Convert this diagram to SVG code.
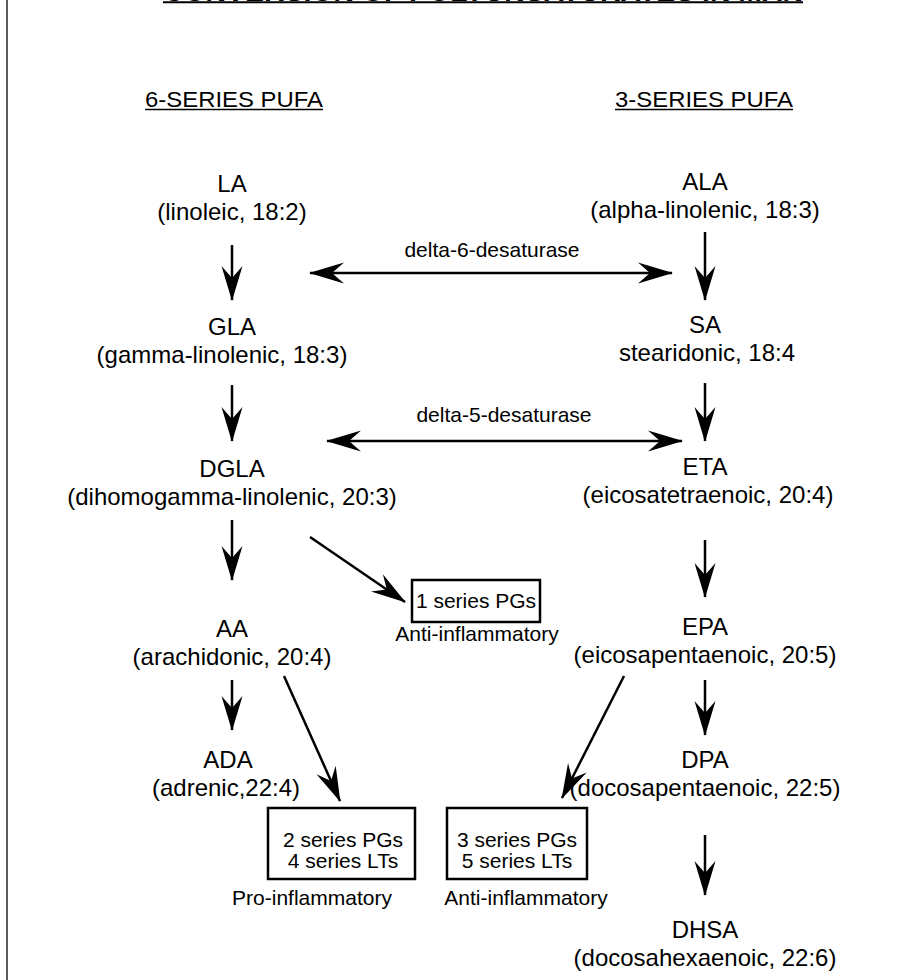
<svg xmlns="http://www.w3.org/2000/svg" width="902" height="980" viewBox="0 0 902 980">
<defs>
<style>
text{font-family:"Liberation Sans",Arial,sans-serif;fill:#000}
.n{font-size:24px;text-anchor:middle}
.s{font-size:21px;text-anchor:middle}
.h{font-size:22px}
.ln{stroke:#000;stroke-width:2.5;fill:none}
.bx{fill:#fff;stroke:#000;stroke-width:2.5}
</style>
<marker id="ah" markerUnits="userSpaceOnUse" markerWidth="42" markerHeight="26" viewBox="-37 -13 42 26" refX="0" refY="0" orient="auto-start-reverse">
<path d="M1,0 L-34,-10.5 L-22,0 L-34,10.5 Z" fill="#000"/>
</marker>
</defs>
<rect width="902" height="980" fill="#fff"/>
<line x1="7" y1="0" x2="7" y2="980" stroke="#333" stroke-width="1.6"/>
<g id="title">
<text x="163" y="0.8" font-size="26" font-weight="bold" textLength="640" lengthAdjust="spacingAndGlyphs">CONVERSION OF POLYUNSATURATES IN MAN</text>
<line x1="163" y1="2.2" x2="803" y2="2.2" stroke="#000" stroke-width="2"/>
</g>
<g id="hdr6">
<text class="h" x="145" y="107" textLength="178" lengthAdjust="spacingAndGlyphs">6-SERIES PUFA</text>
<line x1="145" y1="109.5" x2="323" y2="109.5" stroke="#000" stroke-width="1.5"/>
</g>
<g id="hdr3">
<text class="h" x="615" y="107" textLength="178" lengthAdjust="spacingAndGlyphs">3-SERIES PUFA</text>
<line x1="615" y1="109.5" x2="793" y2="109.5" stroke="#000" stroke-width="1.5"/>
</g>
<g id="LA"><text class="n" x="232" y="192">LA</text><text class="n" x="232" y="220">(linoleic, 18:2)</text></g>
<g id="ALA"><text class="n" x="705" y="190">ALA</text><text class="n" x="705" y="218">(alpha-linolenic, 18:3)</text></g>
<g id="GLA"><text class="n" x="232" y="335">GLA</text><text class="n" x="222" y="363">(gamma-linolenic, 18:3)</text></g>
<g id="SA"><text class="n" x="705" y="333">SA</text><text class="n" x="707" y="361">stearidonic, 18:4</text></g>
<g id="DGLA"><text class="n" x="232" y="477">DGLA</text><text class="n" x="232" y="505">(dihomogamma-linolenic, 20:3)</text></g>
<g id="ETA"><text class="n" x="705" y="475">ETA</text><text class="n" x="708" y="503">(eicosatetraenoic, 20:4)</text></g>
<g id="AA"><text class="n" x="232" y="637">AA</text><text class="n" x="232" y="665">(arachidonic, 20:4)</text></g>
<g id="EPA"><text class="n" x="705" y="635">EPA</text><text class="n" x="705" y="663">(eicosapentaenoic, 20:5)</text></g>
<g id="ADA"><text class="n" x="228" y="768">ADA</text><text class="n" x="226" y="796">(adrenic,22:4)</text></g>
<g id="DPA"><text class="n" x="705" y="768">DPA</text><text class="n" x="705" y="796">(docosapentaenoic, 22:5)</text></g>
<g id="DHSA"><text class="n" x="705" y="938">DHSA</text><text class="n" x="705" y="966">(docosahexaenoic, 22:6)</text></g>
<g id="PG1">
<rect class="bx" x="412" y="580" width="128" height="42"/>
<text class="s" x="476" y="608">1 series PGs</text>
<text class="s" x="477" y="641">Anti-inflammatory</text>
</g>
<g id="PG2">
<rect class="bx" x="268" y="808" width="147" height="71"/>
<text class="s" x="343" y="847">2 series PGs</text>
<text class="s" x="343" y="868">4 series LTs</text>
<text class="s" x="312" y="905">Pro-inflammatory</text>
</g>
<g id="PG3">
<rect class="bx" x="447" y="808" width="140" height="71"/>
<text class="s" x="517" y="847">3 series PGs</text>
<text class="s" x="517" y="868">5 series LTs</text>
<text class="s" x="526" y="905">Anti-inflammatory</text>
</g>
<g id="enz">
<text class="s" x="492" y="257">delta-6-desaturase</text>
<text class="s" x="504" y="422">delta-5-desaturase</text>
</g>
<g id="connectors">
<line class="ln" x1="232" y1="245" x2="232" y2="300" marker-end="url(#ah)"/>
<line class="ln" x1="705" y1="232" x2="705" y2="300" marker-end="url(#ah)"/>
<line class="ln" x1="310" y1="273" x2="672" y2="273" marker-start="url(#ah)" marker-end="url(#ah)"/>
<line class="ln" x1="232" y1="385" x2="232" y2="441" marker-end="url(#ah)"/>
<line class="ln" x1="705" y1="383" x2="705" y2="441" marker-end="url(#ah)"/>
<line class="ln" x1="327" y1="441" x2="682" y2="441" marker-start="url(#ah)" marker-end="url(#ah)"/>
<line class="ln" x1="232" y1="520" x2="232" y2="580" marker-end="url(#ah)"/>
<line class="ln" x1="310" y1="537" x2="405" y2="602" marker-end="url(#ah)"/>
<line class="ln" x1="705" y1="540" x2="705" y2="597" marker-end="url(#ah)"/>
<line class="ln" x1="232" y1="680" x2="232" y2="730" marker-end="url(#ah)"/>
<line class="ln" x1="284" y1="676" x2="340" y2="801" marker-end="url(#ah)"/>
<line class="ln" x1="624" y1="676" x2="562" y2="798" marker-end="url(#ah)"/>
<line class="ln" x1="705" y1="680" x2="705" y2="735" marker-end="url(#ah)"/>
<line class="ln" x1="705" y1="835" x2="705" y2="895" marker-end="url(#ah)"/>
</g>
</svg>
